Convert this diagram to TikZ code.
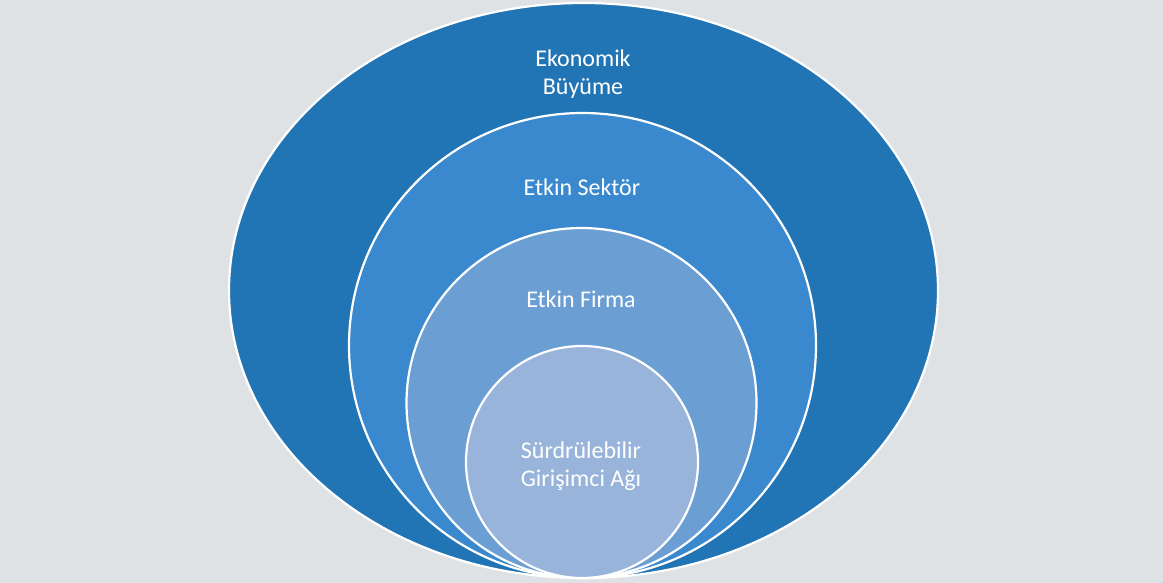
\documentclass[tikz,border=0pt]{standalone}
\usepackage{fontspec}
\setmainfont{Carlito}
\usepackage{xcolor}
\definecolor{bggray}{HTML}{DFE2E5}
\definecolor{ringA}{HTML}{2275B4}
\definecolor{ringB}{HTML}{3A89CE}
\definecolor{ringC}{HTML}{6B9ED3}
\definecolor{ringD}{HTML}{98B4DA}
\tikzset{
    ring/.style={draw=white, line width=2.2pt},
    lbl/.style={text=white, align=center, font=\fontsize{24}{28}\selectfont, inner sep=0pt}
}

\begin{document}
\begin{tikzpicture}[x=1pt, y=-1pt]
        \useasboundingbox (0,0) rectangle (1163,583);
        \fill[bggray] (0,0) rectangle (1163,583);
        % nested rings, all touching at the bottom
        \filldraw[ring, fill=ringA] (583.5,290.5) ellipse [x radius=354.5, y radius=287.5];
        \filldraw[ring, fill=ringB] (582.5,345.5) ellipse [x radius=233.5, y radius=232.5];
        \filldraw[ring, fill=ringC] (581.5,403) circle [radius=175];
        \filldraw[ring, fill=ringD] (582,462) circle [radius=116];
        \node[lbl] (growth) at (583,74) {Ekonomik\\Büyüme};
        \node[lbl] (sector) at (582,187) {Etkin Sektör};
        \node[lbl] (firm) at (581,299) {Etkin Firma};
        \node[lbl] (network) at (581,466) {Sürdrülebilir\\Girişimci Ağı};
    \end{tikzpicture}
\end{document}
